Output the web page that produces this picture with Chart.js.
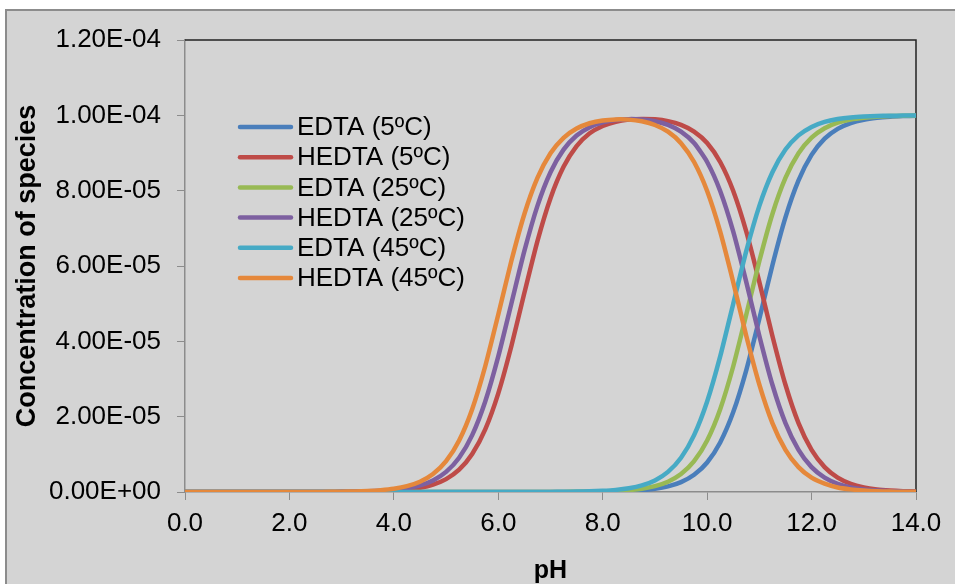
<!DOCTYPE html>
<html>
<head>
<meta charset="utf-8">
<title>Concentration of species vs pH</title>
<script src="https://cdn.jsdelivr.net/npm/chart.js@4.4.0/dist/chart.umd.min.js"></script>
<style>
  body { margin: 0; background: #fff; }
  #chart { display: block; }
</style>
</head>
<body>
<canvas id="chart" width="955" height="584"></canvas>
<script>
// pH grid (0.25 steps)
const pH = [
  0, 0.25, 0.5, 0.75, 1, 1.25, 1.5, 1.75,
  2, 2.25, 2.5, 2.75, 3, 3.25, 3.5, 3.75,
  4, 4.25, 4.5, 4.75, 5, 5.25, 5.5, 5.75,
  6, 6.25, 6.5, 6.75, 7, 7.25, 7.5, 7.75,
  8, 8.25, 8.5, 8.75, 9, 9.25, 9.5, 9.75,
  10, 10.25, 10.5, 10.75, 11, 11.25, 11.5, 11.75,
  12, 12.25, 12.5, 12.75, 13, 13.25, 13.5, 13.75,
  14
];

// concentrations, in units of 1e-5
const edta5 = [
  0, 0, 0, 0, 0, 0, 0, 0,
  0, 0, 0, 0, 0, 0, 0, 0,
  0, 0, 0, 0, 0, 0, 0, 0,
  0, 0, 0, 0, 0.001, 0.002, 0.003, 0.005,
  0.008, 0.015, 0.027, 0.048, 0.084, 0.149, 0.262, 0.457,
  0.784, 1.315, 2.121, 3.237, 4.598, 6.022, 7.291, 8.272,
  8.949, 9.380, 9.642, 9.795, 9.884, 9.934, 9.963, 9.979,
  9.988
];
const hedta5 = [
  0, 0, 0, 0, 0, 0, 0, 0,
  0, 0, 0, 0, 0.004, 0.006, 0.011, 0.020,
  0.035, 0.063, 0.111, 0.196, 0.343, 0.593, 1.009, 1.663,
  2.619, 3.869, 5.288, 6.662, 7.801, 8.632, 9.182, 9.523,
  9.718, 9.830, 9.887, 9.905, 9.893, 9.845, 9.746, 9.567,
  9.264, 8.762, 7.992, 6.912, 5.573, 4.144, 2.847, 1.829,
  1.118, 0.661, 0.383, 0.219, 0.124, 0.070, 0.040, 0.022,
  0.013
];
const edta25 = [
  0, 0, 0, 0, 0, 0, 0, 0,
  0, 0, 0, 0, 0, 0, 0, 0,
  0, 0, 0, 0, 0, 0, 0, 0,
  0, 0, 0, 0, 0.002, 0.003, 0.005, 0.009,
  0.016, 0.028, 0.050, 0.088, 0.156, 0.274, 0.477, 0.818,
  1.368, 2.199, 3.339, 4.713, 6.131, 7.381, 8.337, 8.991,
  9.406, 9.657, 9.804, 9.889, 9.937, 9.965, 9.980, 9.989,
  9.994
];
const hedta25 = [
  0, 0, 0, 0, 0, 0, 0, 0,
  0, 0, 0, 0, 0.006, 0.010, 0.018, 0.032,
  0.056, 0.099, 0.175, 0.307, 0.533, 0.909, 1.510, 2.403,
  3.600, 5.000, 6.400, 7.597, 8.490, 9.090, 9.464, 9.686,
  9.811, 9.876, 9.899, 9.889, 9.843, 9.745, 9.566, 9.264,
  8.762, 7.992, 6.912, 5.573, 4.144, 2.847, 1.829, 1.118,
  0.661, 0.383, 0.219, 0.124, 0.070, 0.040, 0.022, 0.013,
  0.007
];
const edta45 = [
  0, 0, 0, 0, 0, 0, 0, 0,
  0, 0, 0, 0, 0, 0, 0, 0,
  0, 0, 0, 0, 0, 0, 0, 0,
  0, 0, 0, 0.002, 0.003, 0.006, 0.010, 0.018,
  0.032, 0.056, 0.099, 0.175, 0.307, 0.533, 0.909, 1.510,
  2.403, 3.600, 5.000, 6.400, 7.597, 8.490, 9.091, 9.468,
  9.693, 9.825, 9.901, 9.944, 9.968, 9.982, 9.990, 9.994,
  9.997
];
const hedta45 = [
  0, 0, 0, 0, 0, 0, 0, 0,
  0, 0, 0, 0.005, 0.009, 0.016, 0.028, 0.050,
  0.088, 0.156, 0.274, 0.477, 0.818, 1.368, 2.199, 3.339,
  4.713, 6.131, 7.381, 8.337, 8.991, 9.402, 9.649, 9.790,
  9.864, 9.892, 9.886, 9.841, 9.744, 9.566, 9.261, 8.760,
  7.990, 6.910, 5.570, 4.140, 2.850, 1.830, 1.120, 0.660,
  0.380, 0.220, 0.120, 0.070, 0.040, 0.020, 0.013, 0.007,
  0.004
];

const seriesNames = ["EDTA (5ºC)", "HEDTA (5ºC)", "EDTA (25ºC)", "HEDTA (25ºC)", "EDTA (45ºC)", "HEDTA (45ºC)"];
const seriesValues = [edta5, hedta5, edta25, hedta25, edta45, hedta45];
const seriesColors = ["#4a7ebb", "#be4b48", "#98b954", "#7d60a0", "#46aac5", "#e5883b"];

const xTickLabels = ["0.0", "2.0", "4.0", "6.0", "8.0", "10.0", "12.0", "14.0"];
const yTickLabels = ["0.00E+00", "2.00E-05", "4.00E-05", "6.00E-05", "8.00E-05", "1.00E-04", "1.20E-04"];

const FONT = "'Liberation Sans', Arial, sans-serif";
Chart.defaults.font.family = FONT;
Chart.defaults.color = "#000";

const backgroundPlugin = {
    id: "background",
    beforeDraw(chart) {
        const ctx = chart.ctx;
        ctx.save();
        ctx.fillStyle = "#fff";
        ctx.fillRect(0, 0, chart.width, chart.height);
        ctx.fillStyle = "#d4d4d4";
        ctx.fillRect(6, 10, chart.width - 6, chart.height - 10);
        ctx.strokeStyle = "#8c8c8c";
        ctx.lineWidth = 2;
        ctx.beginPath();
        ctx.moveTo(6, chart.height);
        ctx.lineTo(6, 10);
        ctx.lineTo(chart.width, 10);
        ctx.stroke();
        ctx.restore();
    },
    beforeDatasetsDraw(chart) {
        const {ctx, chartArea} = chart;
        ctx.save();
        ctx.strokeStyle = "#222";
        ctx.lineWidth = 1.5;
        ctx.beginPath();
        ctx.moveTo(chartArea.left, chartArea.top);
        ctx.lineTo(chartArea.right, chartArea.top);
        ctx.lineTo(chartArea.right, chartArea.bottom);
        ctx.stroke();
        ctx.restore();
    }
};

const legendPlugin = {
    id: "insideLegend",
    afterDraw(chart) {
        const ctx = chart.ctx;
        ctx.save();
        ctx.font = "26px " + FONT;
        ctx.textBaseline = "middle";
        ctx.textAlign = "left";
        ctx.lineCap = "round";
        ctx.lineWidth = 4.5;
        seriesNames.forEach((name, i) => {
            const y = 127 + i * 30.2;
            ctx.strokeStyle = seriesColors[i];
            ctx.beginPath();
            ctx.moveTo(240, y);
            ctx.lineTo(291, y);
            ctx.stroke();
            ctx.fillStyle = "#000";
            ctx.fillText(name, 297, y + 1);
        });
        ctx.restore();
    }
};

const datasets = seriesNames.map((name, i) => ({
    label: name,
    data: pH.map((x, j) => ({ x: x, y: seriesValues[i][j] })),
    borderColor: seriesColors[i],
    backgroundColor: seriesColors[i],
    borderWidth: 4.5,
    pointRadius: 0,
    tension: 0.2,
    borderCapStyle: "round",
    borderJoinStyle: "round",
    fill: false,
    order: seriesNames.length - i
}));

new Chart(document.getElementById("chart"), {
    type: "line",
    data: { datasets: datasets },
    options: {
        responsive: false,
        animation: false,
        devicePixelRatio: 1,
        layout: { padding: { left: 0, top: 40, right: 39, bottom: 0 } },
        plugins: {
            legend: { display: false },
            tooltip: { enabled: false }
        },
        scales: {
            x: {
                type: "linear",
                min: 0,
                max: 14,
                afterFit: (scale) => { scale.height = 92; },
                border: { display: true, color: "#8c8c8c", width: 1.5 },
                grid: { display: true, drawOnChartArea: false, drawTicks: true, tickLength: 8, color: "#8c8c8c" },
                ticks: {
                    stepSize: 2,
                    padding: 8,
                    maxRotation: 0,
                    font: { size: 26 },
                    color: "#000",
                    callback: (v, i) => xTickLabels[i]
                },
                title: {
                    display: true,
                    text: "pH",
                    color: "#000",
                    font: { size: 25, weight: "bold", lineHeight: 1 },
                    padding: { top: 0, bottom: 0 }
                }
            },
            y: {
                min: 0,
                max: 12,
                afterFit: (scale) => { scale.width = 185; },
                border: { display: true, color: "#8c8c8c", width: 1.5 },
                grid: { display: true, drawOnChartArea: false, drawTicks: true, tickLength: 8, color: "#8c8c8c" },
                ticks: {
                    stepSize: 2,
                    padding: 16,
                    font: { size: 26 },
                    color: "#000",
                    callback: (v, i) => yTickLabels[i]
                },
                title: {
                    display: true,
                    text: "Concentration of species",
                    color: "#000",
                    font: { size: 27, weight: "bold", lineHeight: 1 },
                    padding: { top: 14, bottom: 0 }
                }
            }
        }
    },
    plugins: [backgroundPlugin, legendPlugin]
});
</script>
</body>
</html>
